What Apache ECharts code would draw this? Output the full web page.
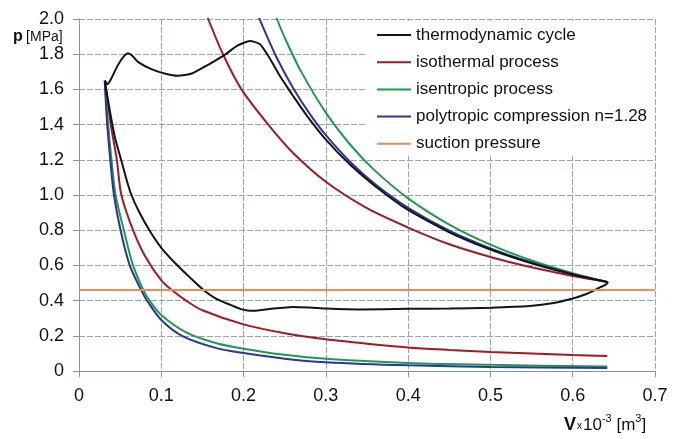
<!DOCTYPE html>
<html>
<head>
<meta charset="utf-8">
<script src="https://cdn.jsdelivr.net/npm/echarts@6/dist/echarts.min.js"></script>
<style>
  html, body { margin: 0; padding: 0; background: #fff; }
  #chart { width: 683px; height: 439px; }
</style>
</head>
<body>
<div id="chart"></div>
<script>
// Measured p-V loop of the compressor, [V (x10^-3 m^3), p (MPa)], traced around the loop
const cycle = [
  [0.0313, 1.65], [0.035, 1.63], [0.039, 1.66], [0.0475, 1.74], [0.055, 1.79], [0.0596, 1.805],
  [0.065, 1.79], [0.072, 1.755], [0.088, 1.715], [0.104, 1.69], [0.12, 1.677], [0.137, 1.69],
  [0.157, 1.74], [0.177, 1.796], [0.193, 1.85], [0.2077, 1.875], [0.22, 1.857], [0.23, 1.79],
  [0.236, 1.743], [0.244, 1.677], [0.252, 1.62], [0.26, 1.564], [0.277, 1.45], [0.30, 1.315],
  [0.33, 1.17], [0.36, 1.05], [0.40, 0.915], [0.45, 0.788], [0.50, 0.69], [0.55, 0.612],
  [0.60, 0.548], [0.625, 0.522], [0.638, 0.51], [0.6425, 0.503], [0.64, 0.49], [0.633, 0.475],
  [0.625, 0.455], [0.615, 0.435], [0.60, 0.412], [0.575, 0.385], [0.548, 0.37], [0.50, 0.36],
  [0.45, 0.355], [0.40, 0.353], [0.341, 0.35], [0.301, 0.355], [0.28, 0.361], [0.26, 0.364],
  [0.236, 0.355], [0.215, 0.343], [0.205, 0.344], [0.196, 0.353], [0.187, 0.37], [0.167, 0.41],
  [0.151, 0.462], [0.1347, 0.532], [0.1185, 0.605], [0.10, 0.70], [0.0861, 0.795], [0.073, 0.905],
  [0.0637, 1.0], [0.0576, 1.09], [0.0515, 1.195], [0.0435, 1.33], [0.0374, 1.48], [0.0313, 1.65]
];

// Isothermal process: compression branch and re-expansion branch
const isothermalCompression = [
  [0.152, 2.07], [0.157, 2.0], [0.175, 1.8], [0.1975, 1.6], [0.23, 1.4], [0.26, 1.24],
  [0.30, 1.075], [0.35, 0.925], [0.40, 0.815], [0.45, 0.72], [0.50, 0.648], [0.55, 0.589],
  [0.60, 0.54], [0.642, 0.506]
];
const isothermalExpansion = [
  [0.0318, 1.64], [0.0386, 1.4], [0.046, 1.2], [0.0515, 1.0], [0.0657, 0.80], [0.08, 0.655],
  [0.10, 0.515], [0.1136, 0.457], [0.13, 0.40], [0.15, 0.345], [0.20, 0.265], [0.25, 0.215],
  [0.30, 0.18], [0.35, 0.155], [0.40, 0.134], [0.45, 0.12], [0.50, 0.108], [0.55, 0.099],
  [0.60, 0.091], [0.642, 0.085]
];

// Isentropic process
const isentropicCompression = [
  [0.23, 2.13], [0.24, 2.007], [0.25, 1.894], [0.27, 1.701], [0.30, 1.468], [0.33, 1.284],
  [0.36, 1.137], [0.40, 0.981], [0.45, 0.832], [0.50, 0.718], [0.55, 0.628], [0.60, 0.556],
  [0.642, 0.506]
];
const isentropicExpansion = [
  [0.0313, 1.65], [0.035, 1.42], [0.0395, 1.2], [0.0445, 1.0], [0.0556, 0.78], [0.0657, 0.60],
  [0.078, 0.462], [0.085, 0.405], [0.10, 0.318], [0.1307, 0.218], [0.167, 0.158], [0.20, 0.127],
  [0.25, 0.092], [0.30, 0.069], [0.40, 0.046], [0.50, 0.035], [0.642, 0.025]
];

// Polytropic compression, n = 1.28
const polytropicCompression = [
  [0.21, 2.115], [0.22, 1.993], [0.24, 1.783], [0.26, 1.61], [0.28, 1.464], [0.30, 1.34],
  [0.33, 1.186], [0.36, 1.061], [0.40, 0.927], [0.45, 0.797], [0.50, 0.697], [0.55, 0.617],
  [0.60, 0.552], [0.642, 0.506]
];
const polytropicExpansion = [
  [0.0313, 1.65], [0.034, 1.42], [0.038, 1.2], [0.0425, 1.0], [0.0515, 0.78], [0.0617, 0.60],
  [0.076, 0.455], [0.082, 0.405], [0.10, 0.29], [0.127, 0.195], [0.167, 0.13], [0.20, 0.102],
  [0.25, 0.07], [0.30, 0.05], [0.40, 0.032], [0.50, 0.023], [0.642, 0.017]
];

// Suction pressure level (MPa) across the whole volume range
const suctionPressure = 0.46;
const volumeRange = [0, 0.7];
const pressureRange = [0, 2.0];

const seriesNames = [
  'thermodynamic cycle',
  'isothermal process',
  'isentropic process',
  'polytropic compression n=1.28',
  'suction pressure'
];
const colors = {
  cycle: '#141414',
  isothermal: '#a01b22',
  isentropic: '#1f9a55',
  polytropic: '#2e3596',
  suction: '#ee8a55'
};

const FONT = '"Liberation Sans", Arial, sans-serif';
const tickText = v => (v === 0 ? '0' : v.toFixed(1));

function curve(name, data, color, smooth) {
  return {
    name: name,
    type: 'line',
    data: data,
    symbol: 'none',
    smooth: smooth,
    color: color,
    lineStyle: { color: color, width: 2 },
    emphasis: { disabled: true },
    z: 2
  };
}

const gridLine = { show: true, lineStyle: { color: '#95a2ba', width: 1, type: [6, 2] } };

const chart = echarts.init(document.getElementById('chart'), null, { renderer: 'canvas' });

chart.setOption({
  animation: false,
  backgroundColor: '#fff',
  grid: { left: 79, right: 28, top: 19, bottom: 68 },
  xAxis: {
    type: 'value',
    min: volumeRange[0],
    max: volumeRange[1],
    interval: 0.1,
    axisLine: { show: true, lineStyle: { color: '#8792a8', width: 1 } },
    axisTick: { show: true, length: 6, lineStyle: { color: '#8792a8' } },
    axisLabel: { margin: 16, fontSize: 18, color: '#111', fontFamily: FONT, formatter: tickText },
    splitLine: gridLine
  },
  yAxis: {
    type: 'value',
    min: pressureRange[0],
    max: pressureRange[1],
    interval: 0.2,
    axisLine: { show: true, lineStyle: { color: '#8792a8', width: 1 } },
    axisTick: { show: true, length: 6, lineStyle: { color: '#8792a8' } },
    axisLabel: { margin: 15, fontSize: 18, color: '#111', fontFamily: FONT, formatter: tickText },
    splitLine: gridLine
  },
  legend: {
    data: seriesNames,
    orient: 'vertical',
    left: 365,
    top: 21,
    padding: [5, 8, 3, 12],
    icon: 'rect',
    itemWidth: 34,
    itemHeight: 2,
    itemGap: 9.2,
    backgroundColor: '#fff',
    selectedMode: false,
    textStyle: { fontFamily: FONT, fontSize: 17, color: '#111', lineHeight: 18 },
    z: 10
  },
  graphic: [
    {
      type: 'text',
      left: 13,
      top: 29,
      style: {
        text: '{b|p} {r|[MPa]}',
        rich: {
          b: { fontFamily: FONT, fontSize: 16, fontWeight: 'bold', fill: '#111' },
          r: { fontFamily: FONT, fontSize: 14, fill: '#111' }
        }
      }
    },
    {
      type: 'text',
      left: 564,
      top: 413,
      style: {
        text: '{v|V}{x|x}{n|10}{s|-3}{n| [m}{s|3}{n|]}',
        rich: {
          v: { fontFamily: FONT, fontSize: 18, fontWeight: 'bold', fill: '#111', lineHeight: 21, verticalAlign: 'bottom' },
          x: { fontFamily: FONT, fontSize: 10, fill: '#111', lineHeight: 21, verticalAlign: 'bottom', padding: [0, 1, 3, 1] },
          n: { fontFamily: FONT, fontSize: 17, fill: '#111', lineHeight: 21, verticalAlign: 'bottom' },
          s: { fontFamily: FONT, fontSize: 11, fill: '#111', lineHeight: 21, verticalAlign: 'top' }
        }
      }
    }
  ],
  series: [
    curve(seriesNames[1], isothermalCompression, colors.isothermal, 0.3),
    curve(seriesNames[1], isothermalExpansion, colors.isothermal, 0.3),
    curve(seriesNames[2], isentropicCompression, colors.isentropic, 0.3),
    curve(seriesNames[2], isentropicExpansion, colors.isentropic, 0.3),
    curve(seriesNames[3], polytropicCompression, colors.polytropic, 0.3),
    curve(seriesNames[3], polytropicExpansion, colors.polytropic, 0.3),
    curve(seriesNames[0], cycle, colors.cycle, 0.2),
    curve(seriesNames[4], [[volumeRange[0], suctionPressure], [volumeRange[1], suctionPressure]], colors.suction, false)
  ]
});
</script>
</body>
</html>
